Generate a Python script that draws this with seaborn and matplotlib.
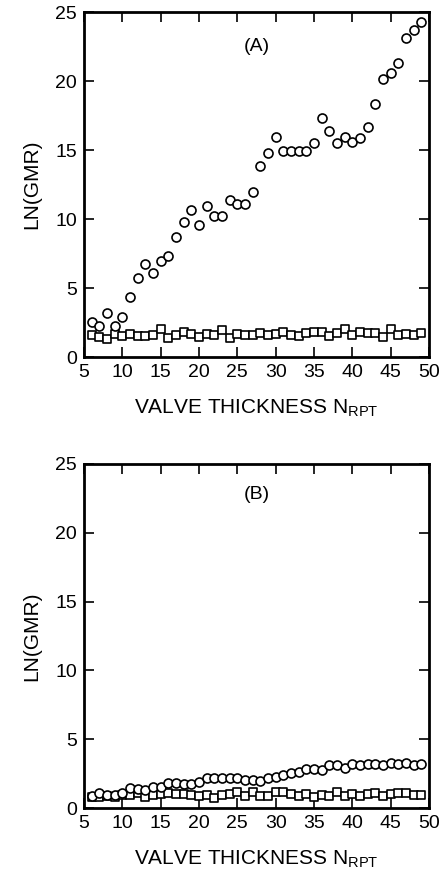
import numpy as np
import pandas as pd
import matplotlib
matplotlib.use("Agg")
import matplotlib.pyplot as plt
import seaborn as sns

n_rpt = list(range(6, 50))

# panel (A)
a_circles = [2.56, 2.27, 3.21, 2.27, 2.92, 4.32, 5.70, 6.76, 6.09, 6.93,
             7.29, 8.72, 9.81, 10.65, 9.54, 10.97, 10.22, 10.22, 11.35, 11.10,
             11.10, 11.93, 13.84, 14.78, 15.96, 14.90, 14.93, 14.95, 14.90, 15.50,
             17.30, 16.38, 15.48, 15.94, 15.60, 15.87, 16.67, 18.36, 20.12, 20.56,
             21.28, 23.09, 23.72, 24.25]
a_squares = [1.59, 1.47, 1.28, 1.67, 1.55, 1.64, 1.52, 1.52, 1.57, 2.00,
             1.40, 1.57, 1.81, 1.67, 1.47, 1.67, 1.57, 1.96, 1.38, 1.69,
             1.59, 1.62, 1.76, 1.59, 1.67, 1.83, 1.57, 1.52, 1.76, 1.83,
             1.83, 1.52, 1.76, 2.03, 1.57, 1.78, 1.74, 1.71, 1.47, 2.03,
             1.62, 1.69, 1.59, 1.74]

# panel (B)
b_circles = [0.85, 1.07, 0.94, 0.94, 1.09, 1.43, 1.41, 1.33, 1.53, 1.55,
             1.80, 1.84, 1.75, 1.77, 1.91, 2.20, 2.15, 2.18, 2.20, 2.20,
             2.06, 2.00, 1.96, 2.20, 2.27, 2.40, 2.57, 2.62, 2.86, 2.86,
             2.79, 3.10, 3.10, 2.94, 3.18, 3.16, 3.23, 3.18, 3.16, 3.28,
             3.18, 3.30, 3.16, 3.21]
b_squares = [0.80, 0.80, 0.87, 0.82, 0.92, 0.94, 1.11, 0.80, 0.92, 1.04,
             1.09, 0.99, 1.04, 0.94, 0.87, 0.94, 0.75, 0.97, 0.99, 1.16,
             0.85, 1.19, 0.90, 0.85, 1.16, 1.16, 1.04, 0.87, 0.99, 0.82,
             0.97, 0.87, 1.16, 0.90, 1.04, 0.85, 0.99, 1.07, 0.90, 0.99,
             1.11, 1.11, 0.92, 0.92]

x_ticks = list(range(5, 51, 5))
y_ticks = [0, 5, 10, 15, 20, 25]

sns.set_theme(style="ticks")
plt.rcParams['font.family'] = ['Liberation Sans', 'DejaVu Sans']
plt.rcParams['mathtext.default'] = 'regular'
plt.rcParams['text.color'] = 'black'
plt.rcParams['axes.labelcolor'] = 'black'

fig = plt.figure(figsize=(4.48, 8.8), dpi=100)
ax_a = fig.add_axes([0.1875, 0.5943, 0.770, 0.392])
ax_b = fig.add_axes([0.1875, 0.0818, 0.770, 0.391])

panels = [(ax_a, a_circles, a_squares, "(A)", 0.90),
          (ax_b, b_circles, b_squares, "(B)", 0.91)]

for ax, circ, sq, tag, ty in panels:
    df = pd.DataFrame({"n": n_rpt, "circ": circ, "sq": sq})
    sns.scatterplot(data=df, x="n", y="sq", ax=ax, marker="s", s=34,
                    facecolor="white", edgecolor="black", linewidth=1.2, zorder=3)
    sns.scatterplot(data=df, x="n", y="circ", ax=ax, marker="o", s=42,
                    facecolor="white", edgecolor="black", linewidth=1.2, zorder=4)
    ax.set_xlim(5, 50)
    ax.set_ylim(0, 25)
    ax.set_xticks(x_ticks)
    ax.set_yticks(y_ticks)
    ax.tick_params(direction="in", length=7, width=1.2, top=True, right=True,
                   labelsize=14, colors="black", pad=5)
    for sp in ax.spines.values():
        sp.set_linewidth(2)
        sp.set_color("black")
    ax.set_xlabel("VALVE THICKNESS N$_{RPT}$", fontsize=15, labelpad=12)
    ax.set_ylabel("LN(GMR)", fontsize=15, labelpad=10)
    ax.text(0.5, ty, tag, transform=ax.transAxes, ha="center", va="center",
            fontsize=14)

fig.savefig("out.png", dpi=100, facecolor="white")
